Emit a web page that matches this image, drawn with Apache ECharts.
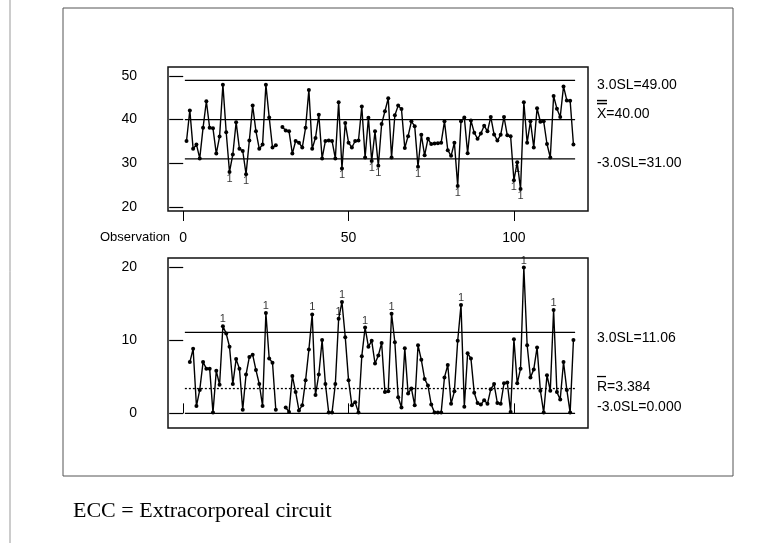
<!DOCTYPE html>
<html><head><meta charset="utf-8">
<script src="https://cdn.jsdelivr.net/npm/echarts@6/dist/echarts.min.js"></script>
<style>html,body{margin:0;padding:0;background:#fff}#c{width:776px;height:543px}</style>
</head><body><div id="c"></div>
<script>
// ---- data ----
const observations = Array.from({length: 118}, (_, i) => i + 1);
const individuals = [
  35.1,42.1,33.3,34.3,31.1,38.1,44.2,38.1,38.0,32.2,
  36.1,48.0,37.1,28.0,32.0,39.4,33.3,32.8,27.5,35.2,
  43.2,37.3,33.3,34.3,48.0,40.5,33.6,34.1,null,38.3,
  37.5,37.3,32.2,35.1,34.7,33.6,38.1,46.8,33.3,35.8,
  41.1,31.1,35.1,35.2,35.1,31.1,44.0,28.8,39.2,34.7,
  33.6,35.1,35.2,43.0,31.3,40.4,30.5,37.3,29.4,39.0,
  41.9,44.9,31.3,41.0,43.2,42.4,33.5,36.2,39.6,38.5,
  29.2,36.5,31.8,35.6,34.4,34.5,34.6,34.7,39.6,33.0,
  31.7,34.7,24.8,39.6,40.5,32.3,39.8,37.0,35.6,36.8,
  38.6,37.3,40.6,36.6,35.2,36.5,40.6,36.4,36.2,26.1,
  30.2,24.1,44.0,34.7,39.6,33.6,42.6,39.5,39.6,34.4,
  31.3,45.4,42.5,40.6,47.6,44.4,44.3,34.3
];
const movingRanges = [
  null,7.0,8.8,1.0,3.2,7.0,6.1,6.1,0.1,5.8,
  3.9,11.9,10.9,9.1,4.0,7.4,6.1,0.5,5.3,7.7,
  8.0,5.9,4.0,1.0,13.7,7.5,6.9,0.5,null,null,
  0.8,0.2,5.1,2.9,0.4,1.1,4.5,8.7,13.5,2.5,
  5.3,10.0,4.0,0.1,0.1,4.0,12.9,15.2,10.4,4.5,
  1.1,1.5,0.1,7.8,11.7,9.1,9.9,6.8,7.9,9.6,
  2.9,3.0,13.6,9.7,2.2,0.8,8.9,2.7,3.4,1.1,
  9.3,7.3,4.7,3.8,1.2,0.1,0.1,0.1,4.9,6.6,
  1.3,3.0,9.9,14.8,0.9,8.2,7.5,2.8,1.4,1.2,
  1.8,1.3,3.3,4.0,1.4,1.3,4.1,4.2,0.2,10.1,
  4.1,6.1,19.9,9.3,4.9,6.0,9.0,3.1,0.1,5.2,
  3.1,14.1,2.9,1.9,7.0,3.2,0.1,10.0
];
// limits: [LCL, CL, UCL]
const individualLimits = [31.00, 40.00, 49.00];
const rangeLimits = [0.000, 3.384, 11.06];
const individualLimitLabels = ['-3.0SL=31.00', 'X=40.00', '3.0SL=49.00'];
const rangeLimitLabels = ['-3.0SL=0.000', 'R=3.384', '3.0SL=11.06'];
const xTicks = [0, 50, 100];
const yTicksTop = [20, 30, 40, 50];
const yTicksBottom = [0, 10, 20];

// ---- helpers ----
const FONT = '"Liberation Sans", Arial, sans-serif';
const pairs = arr => observations.map((o, i) => [o, arr[i]]);
const firstObs = observations[0], lastObs = observations[observations.length - 1];
const limitLine = v => [[firstObs - 0.5, v], [lastObs + 0.5, v]];
const flagsLow = (arr, lcl) => observations.map((o, i) => [o, arr[i]]).filter(p => p[1] !== null && p[1] < lcl);
const flagsHigh = (arr, ucl) => observations.map((o, i) => [o, arr[i]]).filter(p => p[1] !== null && p[1] > ucl);

const chart = echarts.init(document.getElementById('c'), null, {renderer: 'canvas'});

function xAxisCfg(grid, pos, showLabels) {
  return {
    type: 'value', gridIndex: grid, position: pos, min: -4.6, max: 122.4,
    axisLine: {show: false}, splitLine: {show: false},
    axisTick: {show: true, inside: false, length: 10, customValues: xTicks, lineStyle: {color: '#000', width: 1}},
    axisLabel: {show: showLabels, customValues: xTicks, margin: 20, color: '#000', fontSize: 14, fontFamily: FONT}
  };
}
function yAxisCfg(grid, min, max, ticks) {
  return {
    type: 'value', gridIndex: grid, min: min, max: max,
    axisLine: {show: false}, splitLine: {show: false},
    axisTick: {show: true, inside: false, length: 14, customValues: ticks, lineStyle: {color: '#000', width: 1.2}},
    axisLabel: {customValues: ticks, margin: 31, color: '#000', fontSize: 14, fontFamily: FONT}
  };
}
function dataSeries(ax, arr) {
  return {
    type: 'line', xAxisIndex: ax, yAxisIndex: ax, data: pairs(arr), connectNulls: false,
    symbol: 'circle', symbolSize: 4, showSymbol: true,
    lineStyle: {color: '#000', width: 1.4}, itemStyle: {color: '#000'}, z: 4, silent: true
  };
}
function limitSeries(ax, v, dashed) {
  return {
    type: 'line', xAxisIndex: ax, yAxisIndex: ax, data: limitLine(v), symbol: 'none',
    lineStyle: {color: '#000', width: 1.3, type: dashed ? [2, 2] : 'solid'}, z: 3, silent: true
  };
}
function flagSeries(ax, data, pos) {
  return {
    type: 'scatter', xAxisIndex: ax, yAxisIndex: ax, data: data, symbolSize: 1,
    itemStyle: {color: 'rgba(0,0,0,0)'}, z: 5, silent: true,
    label: {show: true, formatter: '1', position: pos, distance: 1, color: '#000', fontSize: 11, fontFamily: FONT}
  };
}

const option = {
  animation: false,
  backgroundColor: '#fff',
  grid: [
    {left: 168, top: 67, width: 420, height: 144, show: true, borderColor: '#111', borderWidth: 1.5, backgroundColor: 'transparent'},
    {left: 168, top: 258, width: 420, height: 170, show: true, borderColor: '#111', borderWidth: 1.5, backgroundColor: 'transparent'}
  ],
  xAxis: [xAxisCfg(0, 'bottom', true), xAxisCfg(1, 'top', false)],
  yAxis: [yAxisCfg(0, 19.05, 52.05, yTicksTop), yAxisCfg(1, -2.0, 21.2, yTicksBottom)],
  series: [
    limitSeries(0, individualLimits[0], false),
    limitSeries(0, individualLimits[1], false),
    limitSeries(0, individualLimits[2], false),
    dataSeries(0, individuals),
    flagSeries(0, flagsLow(individuals, individualLimits[0]), 'bottom'),
    flagSeries(0, flagsHigh(individuals, individualLimits[2]), 'top'),
    limitSeries(1, rangeLimits[0], false),
    limitSeries(1, rangeLimits[1], true),
    limitSeries(1, rangeLimits[2], false),
    dataSeries(1, movingRanges),
    flagSeries(1, flagsHigh(movingRanges, rangeLimits[2]), 'top')
  ]
};
chart.setOption(option);

// ---- text annotations positioned from the axes ----
const yPix = (grid, v) => chart.convertToPixel({gridIndex: grid}, [0, v])[1];
const LX = 597;
const txt = (x, y, s, extra) => Object.assign({type: 'text', x: x, y: y, silent: true,
  style: {text: s, fill: '#000', font: '14px ' + FONT, textVerticalAlign: 'middle', textAlign: 'left'}}, extra || {});
const bar = (x1, x2, y, w) => ({type: 'line', silent: true, shape: {x1: x1, y1: y, x2: x2, y2: y}, style: {stroke: '#000', lineWidth: w}});

const yU0 = yPix(0, individualLimits[2]), yC0 = yPix(0, individualLimits[1]), yL0 = yPix(0, individualLimits[0]);
const yU1 = yPix(1, rangeLimits[2]), yC1 = yPix(1, rangeLimits[1]), yL1 = yPix(1, rangeLimits[0]);

const graphics = [
  {type: 'line', silent: true, shape: {x1: 10, y1: 0, x2: 10, y2: 543}, style: {stroke: '#999', lineWidth: 1}},
  {type: 'rect', silent: true, shape: {x: 63, y: 8, width: 670, height: 468}, style: {fill: 'none', stroke: '#555', lineWidth: 1}},
  txt(LX, yU0 + 5, individualLimitLabels[2]),
  txt(LX, yC0 - 5, individualLimitLabels[1]),
  bar(LX, LX + 10, yC0 - 19, 1.5), bar(LX, LX + 10, yC0 - 16, 1.5),
  txt(LX, yL0 + 4, individualLimitLabels[0]),
  txt(LX, yU1 + 6, rangeLimitLabels[2]),
  txt(LX, yC1 - 1, rangeLimitLabels[1]),
  bar(LX, LX + 9, yC1 - 12, 1.3),
  txt(LX, yL1 - 6, rangeLimitLabels[0]),
  txt(100, 237, 'Observation', {style: {text: 'Observation', fill: '#000', font: '13px ' + FONT, textVerticalAlign: 'middle', textAlign: 'left'}}),
  {type: 'text', x: 73, y: 511, silent: true, style: {text: 'ECC = Extracorporeal circuit', fill: '#000', font: '22px "Liberation Serif", "Times New Roman", serif', textVerticalAlign: 'middle', textAlign: 'left'}}
];
chart.setOption({graphic: graphics});
</script>
</body></html>
